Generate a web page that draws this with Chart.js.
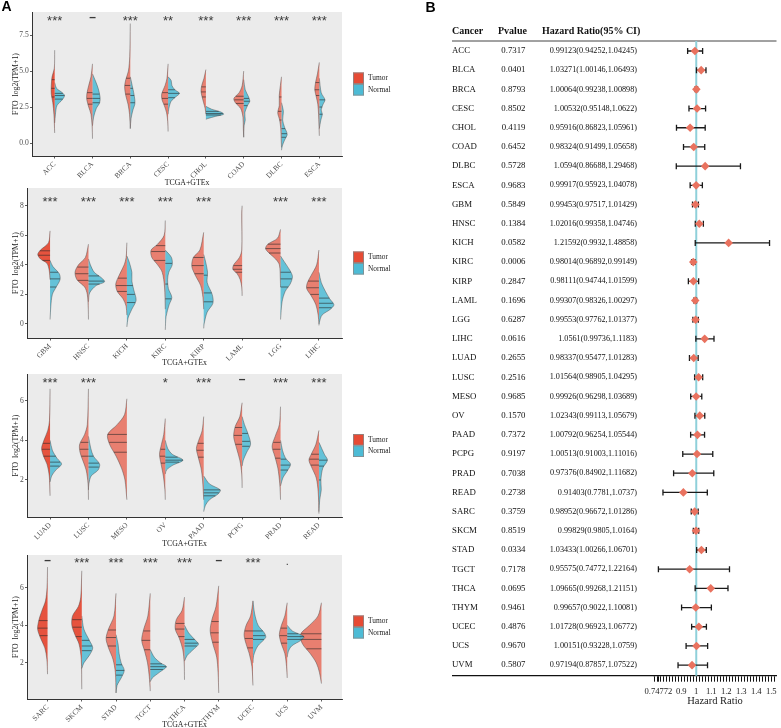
<!DOCTYPE html>
<html><head><meta charset="utf-8">
<script src="https://cdn.jsdelivr.net/npm/chart.js@4.4.1/dist/chart.umd.min.js"></script>
<style>
html,body{margin:0;padding:0;background:#fff;}
body{width:781px;height:728px;position:relative;overflow:hidden;}
canvas{position:absolute;}
</style></head>
<body>
<canvas id="v1"></canvas><canvas id="v2"></canvas><canvas id="v3"></canvas><canvas id="v4"></canvas>
<canvas id="forest"></canvas>
<script>
// ================= DATA =================
// Panel A – violin halves: [FTO value, half-width in category units], listed top -> bottom
const cats1 = ['ACC','BLCA','BRCA','CESC','CHOL','COAD','DLBC','ESCA'];
const sig1 = ['***','–','***','**','***','***','***','***'];
const yTicks1 = [0, 2.5, 5, 7.5];
const tumor1 = [
 [[6.45,0],[5.2,0.01],[4.6,0.07],[4.0,0.09],[3.4,0.09],[2.8,0.05],[2.0,0.02],[0.7,0]],
 [[5.5,0],[4.6,0.04],[4.0,0.1],[3.4,0.15],[3.0,0.15],[2.5,0.1],[2.0,0.04],[1.2,0.01],[0.3,0]],
 [[8.3,0],[6.0,0.015],[5.0,0.05],[4.4,0.12],[3.9,0.15],[3.3,0.12],[2.7,0.06],[2.0,0.02],[1.0,0]],
 [[5.5,0],[4.5,0.03],[4.0,0.08],[3.4,0.17],[3.0,0.16],[2.6,0.1],[2.1,0.04],[1.5,0.01],[0.8,0]],
 [[5.1,0],[4.5,0.05],[4.0,0.11],[3.6,0.13],[3.2,0.1],[2.8,0.06],[2.4,0.02],[2.0,0]],
 [[5.0,0],[4.0,0.04],[3.5,0.12],[3.1,0.26],[2.8,0.22],[2.4,0.08],[1.8,0.02],[1.0,0.01],[0.4,0]],
 [[4.6,0],[4.0,0.03],[3.3,0.06],[2.6,0.06],[2.1,0.1],[1.6,0.05],[1.0,0.02],[0.3,0.01],[-0.3,0]],
 [[5.6,0],[4.8,0.05],[4.2,0.1],[3.7,0.12],[3.2,0.08],[2.7,0.04],[2.0,0.02],[0.5,0]]
];
const normal1 = [
 [[4.2,0],[3.8,0.05],[3.5,0.2],[3.3,0.26],[3.0,0.2],[2.6,0.06],[2.0,0.02],[1.4,0]],
 [[4.8,0],[4.3,0.08],[3.8,0.15],[3.2,0.2],[2.8,0.19],[2.4,0.1],[1.8,0.03],[1.2,0]],
 [[4.6,0],[4.0,0.05],[3.5,0.09],[3.0,0.12],[2.7,0.12],[2.3,0.07],[1.7,0.02],[1.0,0]],
 [[4.6,0],[4.35,0.08],[4.0,0.1],[3.7,0.18],[3.45,0.3],[3.2,0.2],[2.9,0.08],[2.4,0.02],[2.0,0]],
 [[2.55,0],[2.35,0.15],[2.15,0.4],[2.0,0.47],[1.85,0.25],[1.7,0.05],[1.65,0]],
 [[4.4,0],[3.7,0.04],[3.2,0.13],[2.9,0.16],[2.6,0.1],[2.1,0.03],[1.6,0.04],[1.2,0.01],[0.4,0]],
 [[2.8,0],[2.2,0.05],[1.6,0.03],[1.1,0.08],[0.6,0.15],[0.2,0.08],[-0.2,0.02],[-0.5,0]],
 [[4.5,0],[3.5,0.05],[3.0,0.15],[2.7,0.1],[2.3,0.05],[2.0,0.08],[1.6,0.04],[1.0,0]]
];
const tumorQ1 = [[3.2,3.8,4.4],[2.7,3.1,3.5],[3.4,4.0,4.5],[2.7,3.1,3.5],[3.2,3.55,3.9],[2.75,3.0,3.25],[1.6,2.2,3.2],[3.3,3.7,4.2]];
const normalQ1 = [[3.05,3.3,3.45],[2.8,3.1,3.4],[2.8,3.3,3.8],[3.15,3.45,3.7],[1.95,2.05,2.2],[2.6,2.9,3.1],[0.4,0.65,1.0],[2.0,2.5,3.0]];

const cats2 = ['GBM','HNSC','KICH','KIRC','KIRP','LAML','LGG','LIHC'];
const sig2 = ['***','***','***','***','***','','***','***'];
const yTicks2 = [0, 2, 4, 6, 8];
const tumor2 = [
 [[6.3,0],[5.5,0.04],[5.0,0.25],[4.7,0.32],[4.4,0.25],[4.1,0.08],[3.6,0.02],[3.0,0]],
 [[5.4,0],[4.5,0.08],[4.0,0.26],[3.5,0.35],[3.0,0.3],[2.5,0.1],[2.0,0.03],[1.0,0.005],[0.3,0]],
 [[5.5,0],[4.5,0.02],[4.0,0.07],[3.3,0.2],[2.7,0.29],[2.2,0.25],[1.7,0.1],[1.2,0.02],[0.6,0]],
 [[7.0,0],[6.0,0.03],[5.4,0.2],[5.0,0.37],[4.5,0.35],[4.0,0.2],[3.5,0.08],[2.5,0.02],[1.0,0]],
 [[6.2,0],[5.0,0.1],[4.5,0.27],[3.9,0.31],[3.3,0.22],[2.6,0.08],[1.8,0.02],[1.0,0]],
 [[8.0,0],[7.5,0.01],[5.0,0.01],[4.5,0.07],[4.0,0.22],[3.7,0.24],[3.4,0.13],[3.0,0.05],[2.5,0.01],[1.9,0]],
 [[6.4,0],[5.8,0.08],[5.4,0.33],[5.1,0.39],[4.8,0.3],[4.4,0.13],[4.0,0.03],[3.0,0.005],[2.5,0]],
 [[5.0,0],[4.0,0.06],[3.3,0.2],[2.8,0.3],[2.4,0.32],[1.9,0.2],[1.3,0.08],[0.6,0.02],[0.0,0]]
];
const normal2 = [
 [[4.3,0],[3.9,0.07],[3.4,0.24],[3.0,0.26],[2.5,0.16],[2.0,0.06],[1.2,0.02],[0.3,0]],
 [[4.4,0],[4.0,0.05],[3.5,0.15],[3.1,0.35],[2.85,0.42],[2.6,0.2],[2.1,0.03],[1.5,0]],
 [[4.6,0],[4.2,0.06],[3.5,0.13],[2.9,0.13],[2.3,0.18],[1.6,0.24],[1.0,0.13],[0.4,0.03],[-0.2,0]],
 [[5.0,0],[4.5,0.16],[4.0,0.18],[3.5,0.09],[3.0,0.06],[2.4,0.08],[1.8,0.17],[1.3,0.1],[0.5,0.02],[-0.4,0]],
 [[4.7,0],[4.2,0.05],[3.5,0.1],[2.8,0.09],[2.0,0.22],[1.4,0.24],[0.8,0.09],[0.0,0.01],[-0.3,0]],
 null,
 [[4.6,0],[4.2,0.1],[3.6,0.25],[3.2,0.31],[2.7,0.25],[2.2,0.12],[1.5,0.04],[0.3,0]],
 [[3.5,0],[2.8,0.06],[2.2,0.17],[1.7,0.28],[1.3,0.39],[1.0,0.3],[0.6,0.08],[0.1,0.01],[-0.1,0]]
];
const tumorQ2 = [[4.3,4.65,4.95],[2.95,3.4,3.85],[2.2,2.6,3.1],[4.3,4.9,5.3],[3.4,3.95,4.5],[3.5,3.7,3.95],[4.8,5.1,5.4],[2.0,2.45,2.9]];
const normalQ2 = [[2.5,3.05,3.5],[2.7,2.9,3.25],[1.45,2.0,2.6],[1.7,2.7,4.1],[1.5,2.1,3.3],null,[2.5,3.05,3.5],[1.1,1.4,1.75]];

const cats3 = ['LUAD','LUSC','MESO','OV','PAAD','PCPG','PRAD','READ'];
const sig3 = ['***','***','','*','***','–','***','***'];
const yTicks3 = [2, 4, 6];
const tumor3 = [
 [[6.6,0],[5.0,0.015],[4.5,0.06],[4.0,0.16],[3.6,0.22],[3.2,0.17],[2.8,0.08],[2.2,0.02],[1.2,0]],
 [[6.6,0],[4.8,0.03],[4.3,0.1],[3.8,0.23],[3.4,0.22],[3.0,0.15],[2.5,0.06],[1.8,0.01],[1.0,0]],
 [[6.1,0],[5.3,0.06],[4.8,0.25],[4.3,0.5],[3.8,0.45],[3.2,0.28],[2.6,0.14],[2.0,0.05],[1.0,0]],
 [[5.1,0],[4.3,0.04],[3.8,0.1],[3.3,0.15],[2.8,0.11],[2.2,0.05],[1.5,0.01],[1.0,0]],
 [[5.2,0],[4.5,0.04],[4.0,0.13],[3.6,0.19],[3.2,0.15],[2.6,0.07],[2.0,0.03],[1.0,0]],
 [[5.9,0],[5.2,0.06],[4.7,0.18],[4.2,0.22],[3.7,0.16],[3.0,0.06],[2.3,0.01],[1.6,0]],
 [[5.7,0],[4.8,0.03],[4.2,0.14],[3.7,0.22],[3.2,0.15],[2.6,0.07],[1.8,0.02],[1.0,0]],
 [[4.5,0],[3.8,0.08],[3.3,0.2],[3.0,0.26],[2.6,0.18],[2.1,0.07],[1.4,0.02],[0.3,0]]
];
const normal3 = [
 [[4.0,0],[3.5,0.06],[3.1,0.18],[2.8,0.3],[2.5,0.15],[2.2,0.04],[1.9,0]],
 [[4.2,0],[3.6,0.06],[3.2,0.13],[2.8,0.29],[2.5,0.25],[2.2,0.07],[1.8,0.01],[1.5,0]],
 null,
 [[4.0,0],[3.6,0.06],[3.3,0.18],[3.0,0.46],[2.75,0.2],[2.5,0.03],[2.3,0]],
 [[2.2,0],[1.8,0.15],[1.5,0.43],[1.3,0.38],[1.0,0.15],[0.7,0.04],[0.4,0]],
 [[5.2,0],[4.8,0.06],[4.3,0.16],[3.8,0.22],[3.4,0.12],[3.0,0.03],[2.7,0]],
 [[4.0,0],[3.5,0.05],[3.1,0.13],[2.8,0.26],[2.5,0.19],[2.1,0.06],[1.7,0]],
 [[3.9,0],[3.3,0.14],[3.0,0.22],[2.6,0.1],[2.0,0.05],[1.5,0.06],[1.0,0.02],[0.4,0]]
];
const tumorQ3 = [[3.2,3.55,3.85],[3.2,3.55,3.9],[3.4,3.9,4.3],[2.85,3.2,3.55],[3.15,3.5,3.85],[3.8,4.25,4.65],[3.1,3.55,3.9],[2.75,3.05,3.3]];
const normalQ3 = [[2.7,2.9,3.2],[2.65,2.85,3.2],null,[2.9,3.0,3.15],[1.2,1.35,1.5],[3.7,3.95,4.35],[2.5,2.75,3.05],[2.0,2.7,3.0]];

const cats4 = ['SARC','SKCM','STAD','TGCT','THCA','THYM','UCEC','UCS','UVM'];
const sig4 = ['–','***','***','***','***','–','***','.',''];
const yTicks4 = [2, 4, 6];
const tumor4 = [
 [[7.1,0],[6.0,0.015],[5.3,0.06],[4.8,0.16],[4.3,0.25],[3.8,0.29],[3.3,0.2],[2.8,0.08],[2.2,0.02],[1.4,0]],
 [[6.9,0],[5.5,0.03],[5.0,0.1],[4.5,0.27],[4.0,0.29],[3.5,0.2],[3.0,0.08],[2.2,0.015],[0.6,0]],
 [[5.7,0],[4.5,0.06],[3.8,0.22],[3.3,0.29],[2.8,0.22],[2.2,0.09],[1.5,0.02],[0.4,0]],
 [[5.7,0],[4.5,0.07],[3.8,0.19],[3.2,0.25],[2.6,0.16],[2.0,0.08],[1.3,0.03],[0.5,0]],
 [[5.5,0],[4.8,0.07],[4.3,0.24],[3.8,0.27],[3.3,0.15],[2.7,0.05],[2.0,0.01],[1.1,0]],
 [[6.1,0],[5.0,0.08],[4.3,0.2],[3.7,0.25],[3.0,0.17],[2.3,0.06],[1.5,0.02],[0.4,0]],
 [[5.3,0],[4.5,0.07],[4.0,0.2],[3.5,0.26],[3.0,0.2],[2.5,0.11],[1.8,0.03],[0.8,0]],
 [[5.2,0],[4.5,0.07],[4.0,0.17],[3.5,0.23],[3.0,0.17],[2.5,0.07],[1.8,0.02],[1.2,0]],
 [[5.2,0],[4.5,0.1],[4.0,0.35],[3.5,0.62],[3.0,0.55],[2.5,0.33],[2.0,0.15],[1.5,0.06],[0.9,0]]
];
const normal4 = [
 null,
 [[4.5,0],[3.8,0.06],[3.2,0.22],[2.8,0.32],[2.4,0.22],[2.0,0.06],[1.7,0]],
 [[3.5,0],[3.0,0.06],[2.5,0.09],[2.0,0.15],[1.6,0.24],[1.2,0.15],[0.8,0.03],[0.4,0]],
 [[2.7,0],[2.3,0.12],[2.0,0.3],[1.8,0.47],[1.5,0.27],[1.2,0.06],[1.0,0]],
 [[4.0,0],[3.6,0.12],[3.2,0.32],[3.0,0.41],[2.7,0.25],[2.4,0.08],[2.1,0]],
 null,
 [[5.3,0],[4.6,0.05],[4.0,0.15],[3.6,0.33],[3.35,0.37],[2.9,0.14],[2.4,0.02],[2.0,0]],
 [[4.0,0],[3.7,0.15],[3.4,0.49],[3.2,0.4],[2.9,0.13],[2.6,0.03],[2.3,0]],
 null
];
const tumorQ4 = [[3.45,3.85,4.25],[3.4,3.9,4.3],[2.9,3.35,3.75],[2.7,3.2,3.7],[3.4,3.8,4.1],[3.1,3.6,4.2],[2.8,3.3,3.7],[3.05,3.45,3.85],[2.75,3.25,3.55]];
const normalQ4 = [null,[2.65,2.9,3.2],[1.35,1.6,1.9],[1.65,1.8,1.95],[2.9,3.05,3.25],null,[3.25,3.45,3.7],[3.25,3.4,3.55],null];

const groupNames = ['Tumor','Normal'];

// Panel B – forest plot
const fCancers = ['ACC','BLCA','BRCA','CESC','CHOL','COAD','DLBC','ESCA','GBM','HNSC','KICH','KIRC','KIRP','LAML','LGG','LIHC','LUAD','LUSC','MESO','OV','PAAD','PCPG','PRAD','READ','SARC','SKCM','STAD','TGCT','THCA','THYM','UCEC','UCS','UVM'];
const fPvalue = [0.7317,0.0401,0.8793,0.8502,0.4119,0.6452,0.5728,0.9683,0.5849,0.1384,0.0582,0.0006,0.2847,0.1696,0.6287,0.0616,0.2655,0.2516,0.9685,0.1570,0.7372,0.9197,0.7038,0.2738,0.3759,0.8519,0.0334,0.7178,0.0695,0.9461,0.4876,0.9670,0.5807];
const fHR = [0.99123,1.03271,1.00064,1.00532,0.95916,0.98324,1.0594,0.99917,0.99453,1.02016,1.21592,0.98014,0.98111,0.99307,0.99553,1.0561,0.98337,1.01564,0.99926,1.02343,1.00792,1.00513,0.97376,0.91403,0.98952,0.99829,1.03433,0.95575,1.09665,0.99657,1.01728,1.00151,0.97194];
const fLower = [0.94252,1.00146,0.99238,0.95148,0.86823,0.91499,0.86688,0.95923,0.97517,0.99358,0.9932,0.96892,0.94744,0.98326,0.97762,0.99736,0.95477,0.98905,0.96298,0.99113,0.96254,0.91003,0.84902,0.7781,0.96672,0.9805,1.00266,0.74772,0.99268,0.9022,0.96923,0.93228,0.87857];
const fUpper = [1.04245,1.06493,1.00898,1.0622,1.05961,1.05658,1.29468,1.04078,1.01429,1.04746,1.48858,0.99149,1.01599,1.00297,1.01377,1.1183,1.01283,1.04295,1.03689,1.05679,1.05544,1.11016,1.11682,1.0737,1.01286,1.0164,1.06701,1.22164,1.21151,1.10081,1.06772,1.0759,1.07522];
const fTickLabels = [0.74772, 0.9, 1, 1.1, 1.2, 1.3, 1.4, 1.5];
const fHeaders = ['Cancer','Pvalue','Hazard Ratio(95% CI)'];
const refHR = 1;

// ================= STYLE / LAYOUT =================
const SERIF = 'Liberation Serif';
const SANS = 'Liberation Sans';
Chart.defaults.font.family = SERIF;
const RED = '#E64B35', BLUE = '#4DBBD5';
const solidTumor = ['ACC','GBM','LUAD','SARC','SKCM'];
const panelBg = '#EBEBEB';

const violinPanels = [
 {id:'v1', top:0,   height:190, area:[32,342,12,156],  yMin:-0.9,  yMax:9.1,  sigY:8.75, dec:1, titleY:182.7,
  cats:cats1, sig:sig1, yTicks:yTicks1, tumor:tumor1, normal:normal1, tq:tumorQ1, nq:normalQ1, label:'A'},
 {id:'v2', top:180, height:190, area:[27,342,188,338], yMin:-0.95, yMax:9.2,  sigY:8.5,  dec:0, titleY:362.7,
  cats:cats2, sig:sig2, yTicks:yTicks2, tumor:tumor2, normal:normal2, tq:tumorQ2, nq:normalQ2},
 {id:'v3', top:366, height:186, area:[27,342,374,517], yMin:0.13,  yMax:7.35, sigY:7.08, dec:0, titleY:544,
  cats:cats3, sig:sig3, yTicks:yTicks3, tumor:tumor3, normal:normal3, tq:tumorQ3, nq:normalQ3},
 {id:'v4', top:547, height:186, area:[27,342,555,699], yMin:0.08,  yMax:7.74, sigY:7.48, dec:0, titleY:725,
  cats:cats4, sig:sig4, yTicks:yTicks4, tumor:tumor4, normal:normal4, tq:tumorQ4, nq:normalQ4}
];

function widthAt(kn, y) {
  for (let k = 0; k < kn.length - 1; k++) {
    const [y0, w0] = kn[k], [y1, w1] = kn[k + 1];
    if (y <= y0 && y >= y1) { const t = (y0 - y) / (y0 - y1); return w0 + (w1 - w0) * t; }
  }
  return 0;
}

function makeViolin(P) {
  const W = 400;
  const cv = document.getElementById(P.id);
  cv.width = W; cv.height = P.height;
  cv.style.left = '0px'; cv.style.top = P.top + 'px';
  cv.style.width = W + 'px'; cv.style.height = P.height + 'px';
  const [aL, aR, aT, aB] = P.area;
  const areaTop = aT - P.top, areaBottom = aB - P.top;
  const titleFromBottom = P.height - (P.titleY - P.top);
  const titleSize = 7.8;

  const datasets = [];
  P.cats.forEach((c, i) => {
    [[P.tumor[i], -1, 0], [P.normal[i], 1, 1]].forEach(([kn, side, g]) => {
      if (!kn) return;
      let bg;
      if (g === 0) bg = solidTumor.includes(c) ? 'rgba(230,75,53,0.95)' : 'rgba(230,75,53,0.68)';
      else bg = 'rgba(77,187,213,0.85)';
      datasets.push({
        type: 'line',
        data: kn.map(([y, w]) => ({x: i + side * w, y: y})),
        fill: 'shape',
        backgroundColor: bg,
        borderColor: 'rgba(70,70,70,0.75)',
        borderWidth: 0.6,
        pointRadius: 0,
        tension: 0.3,
        clip: false
      });
    });
  });

  const violinPlugin = {
    id: 'violinExtras' + P.id,
    beforeDraw(chart) {
      const {ctx, chartArea: a} = chart;
      ctx.save();
      ctx.fillStyle = panelBg;
      ctx.fillRect(a.left, a.top, a.right - a.left, a.bottom - a.top);
      ctx.restore();
    },
    afterDatasetsDraw(chart) {
      const {ctx} = chart;
      const xs = chart.scales.x, ys = chart.scales.y;
      ctx.save();
      ctx.strokeStyle = 'rgba(40,40,40,0.85)';
      ctx.lineWidth = 0.7;
      P.cats.forEach((c, i) => {
        [[P.tumor[i], P.tq[i], -1], [P.normal[i], P.nq[i], 1]].forEach(([kn, qs, side]) => {
          if (!kn || !qs) return;
          qs.forEach(q => {
            const w = widthAt(kn, q);
            const py = ys.getPixelForValue(q);
            ctx.beginPath();
            ctx.moveTo(xs.getPixelForValue(i), py);
            ctx.lineTo(xs.getPixelForValue(i + side * w), py);
            ctx.stroke();
          });
        });
      });
      // significance labels
      ctx.fillStyle = '#3a3a3a';
      ctx.textAlign = 'center';
      ctx.textBaseline = 'alphabetic';
      P.cats.forEach((c, i) => {
        const s = P.sig[i];
        if (!s) return;
        const px = xs.getPixelForValue(i);
        const py = ys.getPixelForValue(P.sigY);
        if (s === '.') {
          ctx.font = '11px ' + SANS;
          ctx.fillText(s, px, py + 5);
        } else if (s === '–') {
          ctx.font = 'bold 12px ' + SANS;
          ctx.fillText(s, px, py + 4);
        } else {
          ctx.font = '13px ' + SANS;
          ctx.fillText(s, px, py + 7.5);
        }
      });
      ctx.restore();
    },
    afterDraw(chart) {
      const {ctx, chartArea: a} = chart;
      ctx.save();
      // legend
      const bx = a.right + 11, cy = (a.top + a.bottom) / 2;
      const bw = 11, bh = 11.5;
      [[RED, groupNames[0]], [BLUE, groupNames[1]]].forEach(([col, name], k) => {
        const by = cy - bh + k * bh;
        ctx.fillStyle = col;
        ctx.fillRect(bx, by, bw, bh);
        ctx.strokeStyle = '#8a8a8a';
        ctx.lineWidth = 0.8;
        ctx.strokeRect(bx + 0.4, by + 0.4, bw - 0.8, bh - 0.8);
        ctx.fillStyle = '#222';
        ctx.font = '7.4px ' + SERIF;
        ctx.textAlign = 'left';
        ctx.textBaseline = 'middle';
        ctx.fillText(name, bx + bw + 4, by + bh / 2);
      });
      if (P.label) {
        ctx.fillStyle = '#000';
        ctx.font = 'bold 14px ' + SANS;
        ctx.textAlign = 'left';
        ctx.textBaseline = 'middle';
        ctx.fillText(P.label, 1.5, 7.5);
      }
      ctx.restore();
    }
  };

  new Chart(cv.getContext('2d'), {
    type: 'line',
    data: {datasets},
    options: {
      responsive: false,
      animation: false,
      events: [],
      layout: {padding: {left: 0, right: W - aR, top: areaTop, bottom: 0}},
      plugins: {legend: {display: false}, tooltip: {enabled: false}},
      scales: {
        x: {
          type: 'linear',
          min: -0.6, max: P.cats.length - 1 + 0.6,
          afterBuildTicks: s => { s.ticks = P.cats.map((_, i) => ({value: i})); },
          afterFit: s => { s.height = P.height - areaBottom; s.paddingLeft = 0; s.paddingRight = 0; },
          ticks: {
            autoSkip: false, minRotation: 45, maxRotation: 45, padding: 1.5,
            color: '#4D4D4D', font: {family: SERIF, size: 7.4},
            callback: (v) => P.cats[Math.round(v)]
          },
          grid: {drawOnChartArea: false, drawTicks: true, tickLength: 2.5, color: '#333', lineWidth: 0.8},
          border: {display: true, color: '#333', width: 1},
          title: {display: true, text: 'TCGA+GTEx', color: '#222',
                  font: {family: SERIF, size: titleSize, lineHeight: 1},
                  padding: {top: 0, bottom: titleFromBottom - titleSize / 2}}
        },
        y: {
          type: 'linear',
          min: P.yMin, max: P.yMax,
          afterBuildTicks: s => { s.ticks = P.yTicks.map(v => ({value: v})); },
          afterFit: s => { s.width = aL; s.paddingTop = 0; s.paddingBottom = 0; },
          ticks: {
            autoSkip: false, padding: 1.2,
            color: '#4D4D4D', font: {family: SERIF, size: 7.6},
            callback: v => Number(v).toFixed(P.dec)
          },
          grid: {drawOnChartArea: false, drawTicks: true, tickLength: 2, color: '#333', lineWidth: 0.8},
          border: {display: true, color: '#333', width: 1},
          title: {display: true, text: 'FTO  log2(TPM+1)', color: '#222',
                  font: {family: SERIF, size: titleSize, lineHeight: 1},
                  padding: {top: 15.5 - titleSize / 2, bottom: 0}}
        }
      }
    },
    plugins: [violinPlugin]
  });
}

violinPanels.forEach(makeViolin);

// ---------------- Forest plot ----------------
(function () {
  const left = 420, W = 361, H = 728;
  const cv = document.getElementById('forest');
  cv.width = W; cv.height = H;
  cv.style.left = left + 'px'; cv.style.top = '0px';
  cv.style.width = W + 'px'; cv.style.height = H + 'px';
  const xMin = 0.715, xMax = 1.535;
  const areaLeft = 653.5 - left, areaRight = 776.5 - left;
  const areaTop = 41, areaBottom = 675.7;
  const colName = 452 - left, colP = 525.5 - left, colHR = 637 - left;
  const hdrP = 498 - left, hdrHR = 542 - left;

  const forestPlugin = {
    id: 'forestExtras',
    beforeDatasetsDraw(chart) {
      const {ctx, chartArea: a} = chart;
      const xs = chart.scales.x, ys = chart.scales.y;
      ctx.save();
      ctx.strokeStyle = '#444'; ctx.lineWidth = 1;
      ctx.beginPath(); ctx.moveTo(colName, a.top); ctx.lineTo(a.right, a.top); ctx.stroke();
      ctx.strokeStyle = '#111'; ctx.lineWidth = 1.3;
      ctx.beginPath(); ctx.moveTo(colName, a.bottom); ctx.lineTo(a.left, a.bottom); ctx.stroke();
      const rx = xs.getPixelForValue(refHR);
      ctx.strokeStyle = '#8FD0DA'; ctx.lineWidth = 2;
      ctx.beginPath(); ctx.moveTo(rx, a.top); ctx.lineTo(rx, a.bottom); ctx.stroke();
      ctx.strokeStyle = '#1a1a1a'; ctx.lineWidth = 1.3;
      fCancers.forEach((c, i) => {
        const y = ys.getPixelForValue(i);
        const x0 = xs.getPixelForValue(fLower[i]), x1 = xs.getPixelForValue(fUpper[i]);
        ctx.beginPath();
        ctx.moveTo(x0, y); ctx.lineTo(x1, y);
        ctx.moveTo(x0, y - 3); ctx.lineTo(x0, y + 3);
        ctx.moveTo(x1, y - 3); ctx.lineTo(x1, y + 3);
        ctx.stroke();
      });
      ctx.restore();
    },
    afterDraw(chart) {
      const {ctx} = chart;
      const ys = chart.scales.y;
      ctx.save();
      ctx.textBaseline = 'middle';
      ctx.fillStyle = '#111';
      const hy = ys.getPixelForValue(-1);
      ctx.font = 'bold 10px ' + SERIF;
      ctx.textAlign = 'left';
      ctx.fillText(fHeaders[0], colName, hy);
      ctx.fillText(fHeaders[1], hdrP, hy);
      ctx.fillText(fHeaders[2], hdrHR, hy);
      fCancers.forEach((c, i) => {
        const y = ys.getPixelForValue(i);
        ctx.font = '8.8px ' + SERIF;
        ctx.textAlign = 'left';
        ctx.fillText(c, colName, y);
        ctx.textAlign = 'right';
        ctx.fillText(fPvalue[i].toFixed(4), colP, y);
        ctx.font = '8.2px ' + SERIF;
        ctx.fillText(fHR[i] + '(' + fLower[i] + ',' + fUpper[i] + ')', colHR, y);
      });
      ctx.fillStyle = '#000';
      ctx.font = 'bold 14px ' + SANS;
      ctx.textAlign = 'left';
      ctx.fillText('B', 5.5, 8);
      ctx.restore();
    }
  };

  new Chart(cv.getContext('2d'), {
    type: 'scatter',
    data: {datasets: [{
      data: fHR.map((v, i) => ({x: v, y: i})),
      pointStyle: 'rectRot', pointRadius: 4.3,
      backgroundColor: '#E9725F', borderColor: '#E9725F', borderWidth: 0
    }]},
    options: {
      responsive: false, animation: false, events: [],
      layout: {padding: {left: areaLeft, right: W - areaRight, top: areaTop, bottom: 0}},
      plugins: {legend: {display: false}, tooltip: {enabled: false}},
      scales: {
        x: {
          type: 'linear', min: xMin, max: xMax,
          afterBuildTicks: s => {
            const vals = fTickLabels.slice();
            for (let k = 36; k <= 76; k++) {
              const v = k / 50;
              if (!fTickLabels.some(t => Math.abs(t - v) < 0.004)) vals.push(v);
            }
            vals.sort((a, b) => a - b);
            s.ticks = vals.map(v => ({value: v}));
          },
          afterFit: s => { s.height = H - areaBottom; s.paddingLeft = 0; s.paddingRight = 0; },
          ticks: {
            autoSkip: false, maxRotation: 0, minRotation: 0, padding: 5,
            color: '#222', font: {family: SERIF, size: 8.6},
            callback: v => { const t = fTickLabels.find(t => Math.abs(t - v) < 1e-9); return t === undefined ? '' : String(t); }
          },
          grid: {drawOnChartArea: false, drawTicks: true, tickLength: 6, color: '#111', lineWidth: 1},
          border: {display: true, color: '#111', width: 1.3},
          title: {display: true, text: 'Hazard Ratio', color: '#222',
                  font: {family: SERIF, size: 10.5, lineHeight: 1},
                  padding: {top: 0, bottom: (H - 701.7) - 5.25}}
        },
        y: {type: 'linear', display: false, min: -0.52, max: 32.55, reverse: true}
      }
    },
    plugins: [forestPlugin]
  });
})();
</script>
</body></html>
